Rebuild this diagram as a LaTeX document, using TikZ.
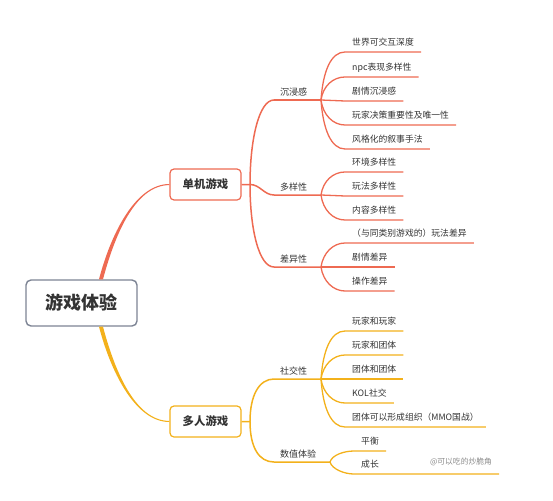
\documentclass[tikz,border=0pt]{standalone}
\usepackage{fontspec}
\setmainfont{Noto Sans CJK SC}
\usetikzlibrary{calc}
\definecolor{cr}{HTML}{EE6A52}
\definecolor{cy}{HTML}{F3B11B}
\definecolor{cg}{HTML}{7D8494}
\definecolor{ct}{HTML}{333333}
\definecolor{cw}{HTML}{8A8A8A}
\begin{document}
\begin{tikzpicture}[x=1pt,y=-1pt,
  leaf/.style={anchor=south west, inner xsep=7pt, inner ysep=6pt, text depth=0pt, font=\fontsize{8.8}{10}\selectfont, text=ct},
  mid/.style={anchor=south west, inner xsep=6pt, inner ysep=4.5pt, text depth=0pt, font=\fontsize{9}{10}\selectfont, text=ct},
  box/.style={draw, rounded corners=4pt, line width=1.2pt, fill=white, minimum width=71pt, minimum height=31pt, inner sep=0pt, font=\fontsize{11.4}{12}\selectfont\bfseries, text=ct},
  rootbox/.style={draw=cg, rounded corners=5pt, line width=1.4pt, fill=white, minimum width=111pt, minimum height=46pt, inner sep=0pt, font=\fontsize{18}{20}\selectfont\bfseries, text=ct},
  wm/.style={font=\fontsize{7.8}{9}\selectfont, text=cw, inner sep=0pt},
  rm/.style={draw=cr, line width=1.5pt},
  rl/.style={draw=cr, line width=1.3pt},
  ym/.style={draw=cy, line width=1.5pt},
  yl/.style={draw=cy, line width=1.3pt}
]
\useasboundingbox (0,0) rectangle (553,500);

% main nodes
\node[rootbox] (root) at (81.5,303) {游戏体验};
\node[box, draw=cr] (single) at (205.5,184.5) {单机游戏};
\node[box, draw=cy] (multi) at (205.5,421.5) {多人游戏};
\coordinate (s1) at (250,184.5);
\coordinate (s2) at (250,421.5);

% level 2
\node[mid] (m1) at (274,100) {沉浸感};
\node[mid] (m2) at (274,195) {多样性};
\node[mid] (m3) at (274,267) {差异性};
\node[mid] (m4) at (274,379) {社交性};
\node[mid] (m5) at (274,462) {数值体验};
\coordinate (b1) at (321,100);
\coordinate (b2) at (321,195);
\coordinate (b3) at (321,267);
\coordinate (b4) at (321,379);
\coordinate (b5) at (330,462);

% leaves
\node[leaf] (a1) at (345,52) {世界可交互深度};
\node[leaf] (a2) at (345,77) {npc表现多样性};
\node[leaf] (a3) at (345,101) {剧情沉浸感};
\node[leaf] (a4) at (345,125) {玩家决策重要性及唯一性};
\node[leaf] (a5) at (345,149) {风格化的叙事手法};
\node[leaf] (c1) at (345,172) {环境多样性};
\node[leaf] (c2) at (345,196) {玩法多样性};
\node[leaf] (c3) at (345,220) {内容多样性};
\node[leaf] (d1) at (345,243) {（与同类别游戏的）玩法差异};
\node[leaf] (d2) at (345,267) {剧情差异};
\node[leaf] (d3) at (345,291) {操作差异};
\node[leaf] (e1) at (345,331) {玩家和玩家};
\node[leaf] (e2) at (345,355) {玩家和团体};
\node[leaf] (e3) at (345,379) {团体和团体};
\node[leaf] (e4) at (345,403) {KOL社交};
\node[leaf] (e5) at (345,427) {团体可以形成组织（MMO国战）};
\node[leaf] (f1) at (354,451) {平衡};
\node[leaf] (f2) at (354,474) {成长};
\coordinate (f2e) at (499,474);
\node[wm] (wm) at (461,462) {@可以吃的炒脆角};

% tapered root connectors
\fill[cr] ($(root.north)+(17.5,0)$) .. controls ($(root.north)+(28.5,-42.5)$) and ($(single.west)+(-35,-0.5)$) .. ($(single.west)+(0,-0.5)$)
  -- ($(single.west)+(0,0.6)$) .. controls ($(single.west)+(-35,0.6)$) and ($(root.north)+(32.5,-41.5)$) .. ($(root.north)+(21.5,0)$) -- cycle;
\fill[cy] ($(root.south)+(17.5,0)$) .. controls ($(root.south)+(28.5,42.5)$) and ($(multi.west)+(-35,0.5)$) .. ($(multi.west)+(0,0.5)$)
  -- ($(multi.west)+(0,-0.6)$) .. controls ($(multi.west)+(-35,-0.6)$) and ($(root.south)+(32.5,41.5)$) .. ($(root.south)+(21.5,0)$) -- cycle;

% level 2 connectors
\draw[rm] (single.east) -- (s1) .. controls +(0,-45) and +(-15,0) .. (m1.south west) -- (b1);
\draw[rm] (s1) .. controls +(10,0) and +(-10,0) .. (m2.south west) -- (b2);
\draw[rm] (s1) .. controls +(0,45) and +(-15,0) .. (m3.south west) -- (b3);
\draw[ym] (multi.east) -- (s2) .. controls +(0,-26) and +(-15,0) .. (m4.south west) -- (b4);
\draw[ym] (s2) .. controls +(0,26) and +(-15,0) .. (m5.south west) -- (b5);

% level 3 connectors
\draw[rl] (b1) .. controls +(2,-29) and +(-14,0) .. (a1.south west) -- (a1.south east);
\draw[rl] (b1) .. controls +(2,-14) and +(-12,0) .. (a2.south west) -- (a2.south east);
\draw[rl] (b1) -- (a3.south west) -- (a3.south east);
\draw[rl] (b1) .. controls +(2,15) and +(-12,0) .. (a4.south west) -- (a4.south east);
\draw[rl] (b1) .. controls +(2,29) and +(-14,0) .. (a5.south west) -- (a5.south east);

\draw[rl] (b2) .. controls +(2,-14) and +(-12,0) .. (c1.south west) -- (c1.south east);
\draw[rl] (b2) -- (c2.south west) -- (c2.south east);
\draw[rl] (b2) .. controls +(2,15) and +(-12,0) .. (c3.south west) -- (c3.south east);

\draw[rl] (b3) .. controls +(2,-14) and +(-12,0) .. (d1.south west) -- (d1.south east);
\draw[rl] (b3) -- (d2.south west) -- (d2.south east);
\draw[rl] (b3) .. controls +(2,14) and +(-12,0) .. (d3.south west) -- (d3.south east);

\draw[yl] (b4) .. controls +(2,-29) and +(-14,0) .. (e1.south west) -- (e1.south east);
\draw[yl] (b4) .. controls +(2,-14) and +(-12,0) .. (e2.south west) -- (e2.south east);
\draw[yl] (b4) -- (e3.south west) -- (e3.south east);
\draw[yl] (b4) .. controls +(2,14) and +(-12,0) .. (e4.south west) -- (e4.south east);
\draw[yl] (b4) .. controls +(2,29) and +(-14,0) .. (e5.south west) -- (e5.south east);

\draw[yl] (b5) .. controls +(2,-7) and +(-10,0) .. (f1.south west) -- (f1.south east);
\draw[yl] (b5) .. controls +(2,7) and +(-10,0) .. (f2.south west) -- (f2e);
\end{tikzpicture}
\end{document}
